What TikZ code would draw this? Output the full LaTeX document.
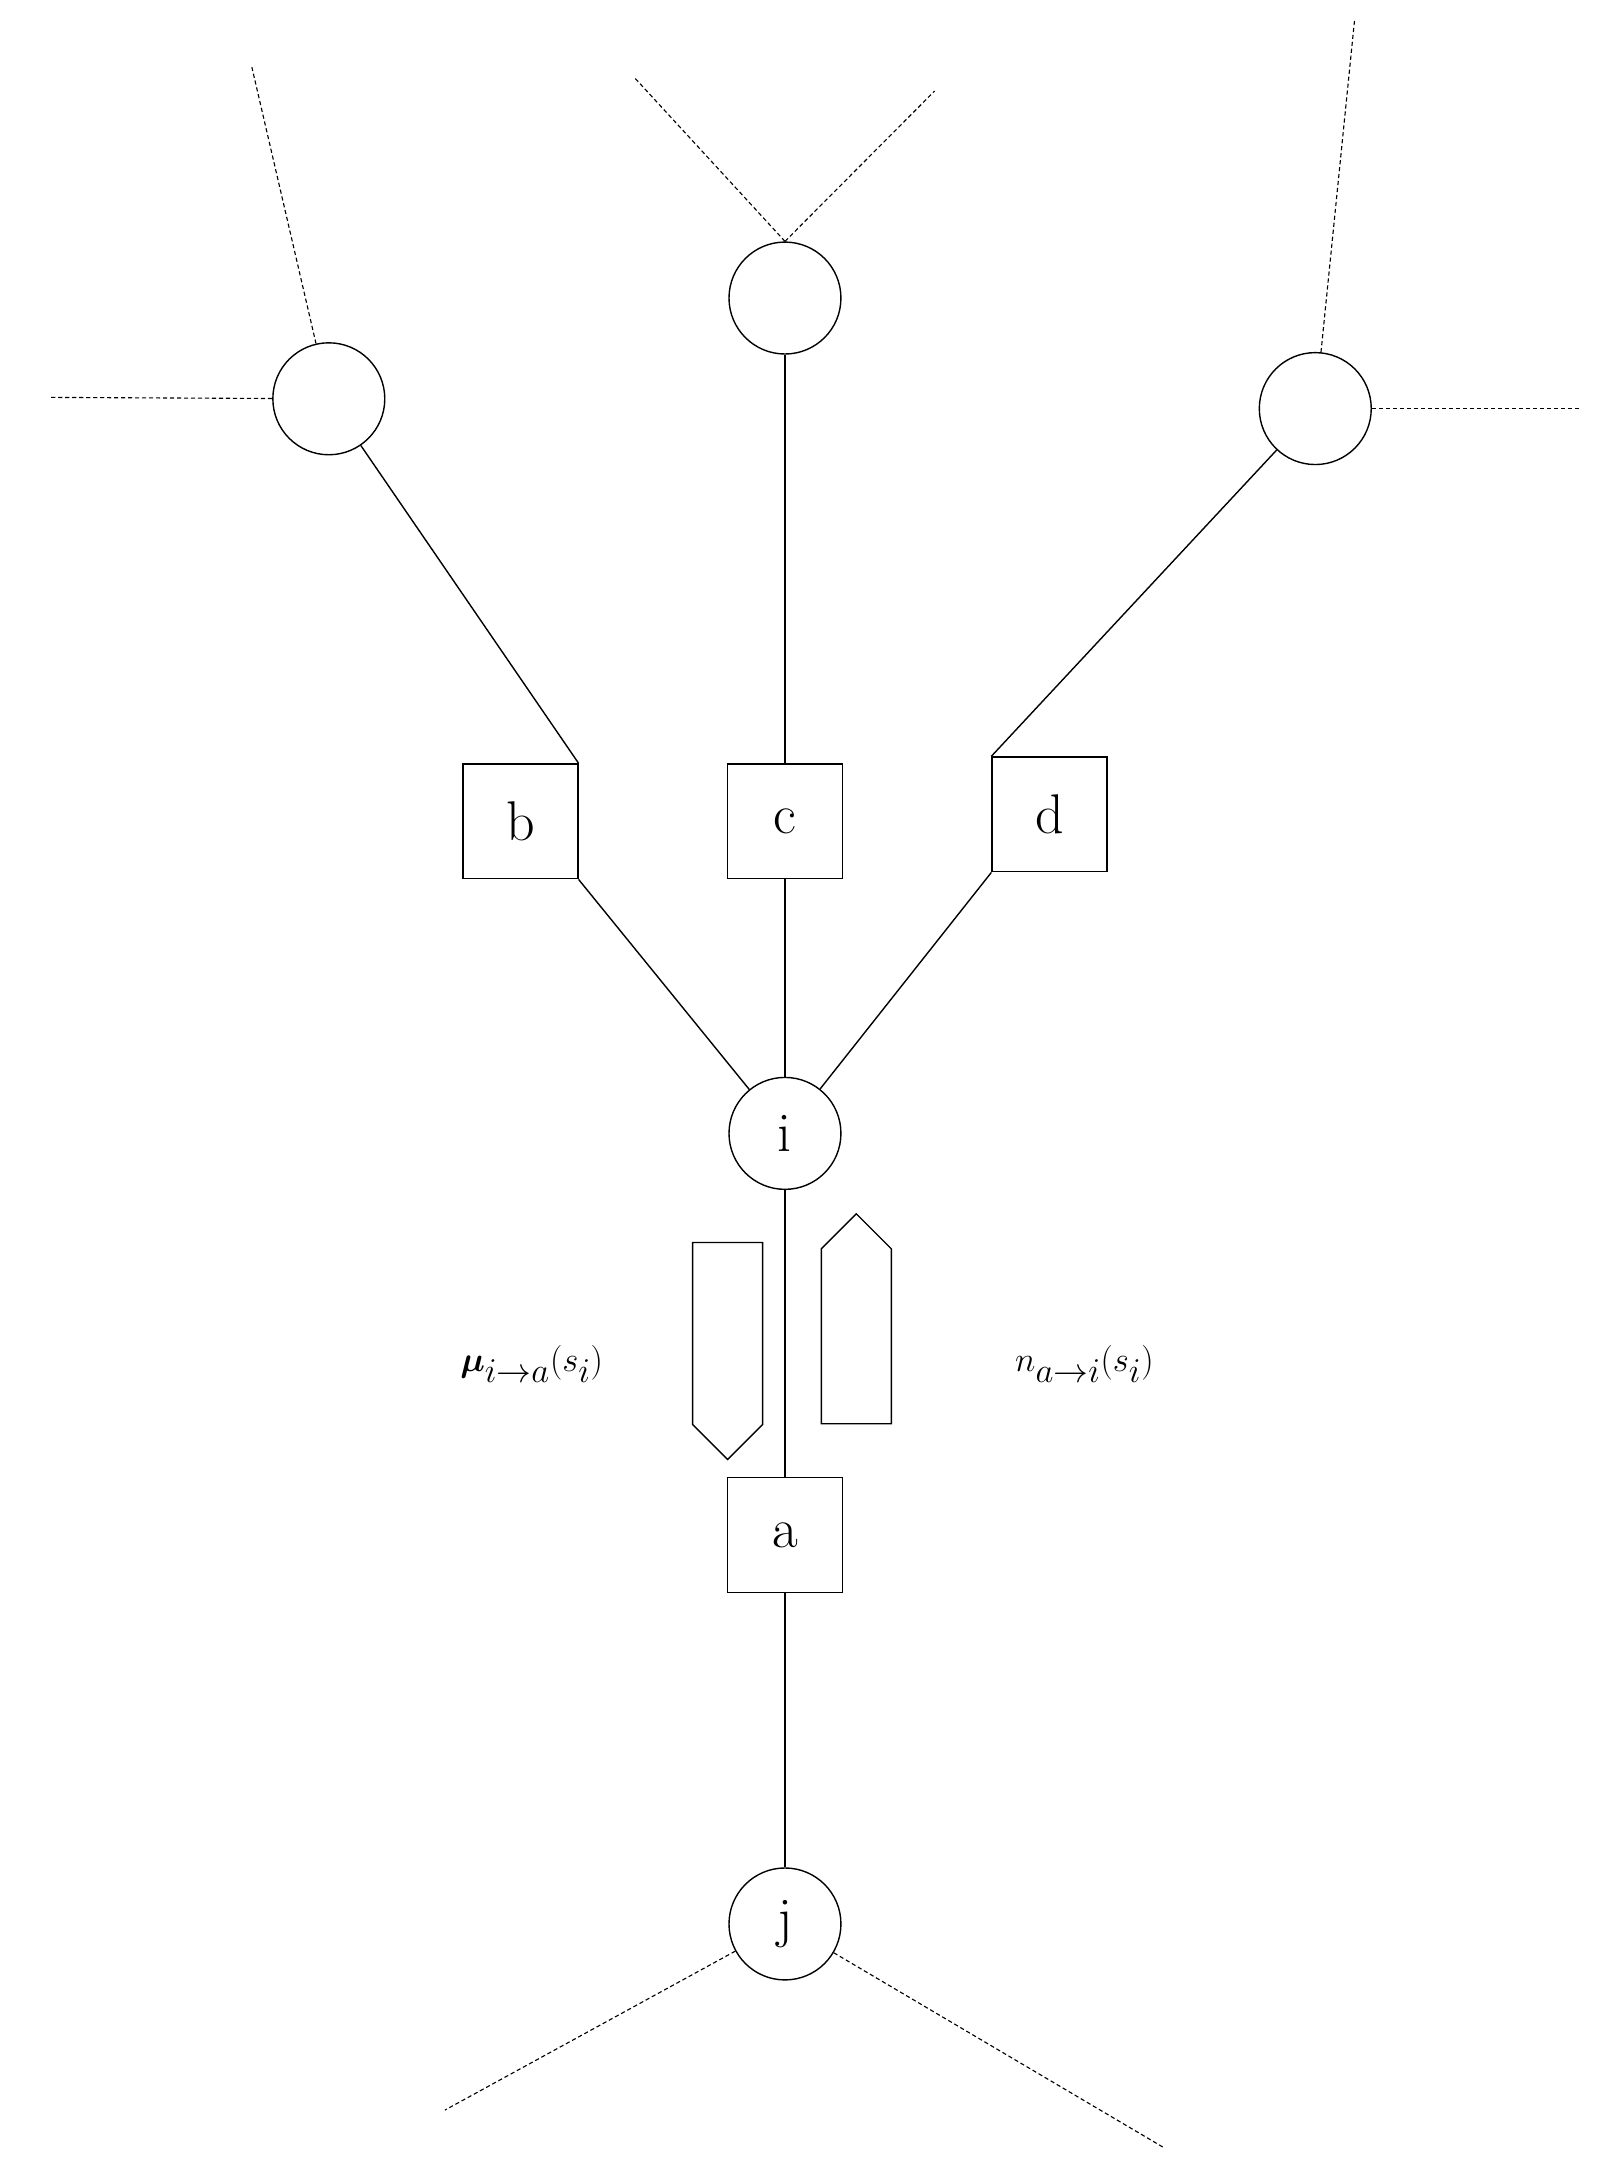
\documentclass[tikz,border=0pt]{standalone}
\usepackage{bm}
\usetikzlibrary{shapes.arrows}
\begin{document}
\begin{tikzpicture}[x=1pt,y=-1pt,
  circ/.style={circle,draw,line width=1pt,minimum size=80pt,inner sep=0pt,font=\fontsize{40}{48}\selectfont},
  box/.style={rectangle,draw,line width=1pt,minimum size=82pt,inner sep=0pt,font=\fontsize{40}{48}\selectfont},
  edge/.style={line width=1pt},
  dline/.style={line width=0.8pt,dash pattern=on 3pt off 2pt},
  harrow/.style={single arrow,draw,line width=1pt,single arrow head extend=0pt}]
\useasboundingbox (0,0) rectangle (1160,1553);
\node[circ] (L) at (235,285) {};
\node[circ] (M) at (561,213) {};
\node[circ] (R) at (940,292) {};
\node[box] (b) at (372,587) {b};
\node[box] (c) at (561,587) {c};
\node[box] (d) at (750,582) {d};
\node[circ] (i) at (561,810) {i};
\node[box] (a) at (561,1097) {a};
\node[circ] (j) at (561,1375) {j};
\coordinate (L1) at (180,48); \coordinate (L2) at (35,284);
\coordinate (M1) at (453,55); \coordinate (M2) at (668,65);
\coordinate (R1) at (968,15); \coordinate (R2) at (1130,292);
\coordinate (J1) at (318,1508); \coordinate (J2) at (832,1535);
\draw[dline] (L) -- (L1); \draw[dline] (L) -- (L2);
\draw[dline] (M.north) -- (M1); \draw[dline] (M.north) -- (M2);
\draw[dline] (R) -- (R1); \draw[dline] (R) -- (R2);
\draw[dline] (j) -- (J1); \draw[dline] (j) -- (J2);
\draw[edge] (L) -- (b.north east);
\draw[edge] (M) -- (c);
\draw[edge] (R) -- (d.north west);
\draw[edge] (b.south east) -- (i);
\draw[edge] (c) -- (i);
\draw[edge] (d.south west) -- (i);
\draw[edge] (i) -- (a);
\draw[edge] (a) -- (j);
\node[harrow,shape border rotate=270,minimum width=50pt,minimum height=155pt,inner sep=2pt] (ad) at (520,953) {};
\node[harrow,shape border rotate=90,minimum width=50pt,minimum height=150pt,inner sep=2pt] (au) at (612,955) {};
\node[font=\fontsize{50}{60}\selectfont] (mu) at (380,975) {$\bm{\mu}_{i\to a}(s_i)$};
\node[font=\fontsize{50}{60}\selectfont] (n) at (775,975) {$n_{a\to i}(s_i)$};
\end{tikzpicture}
\end{document}
